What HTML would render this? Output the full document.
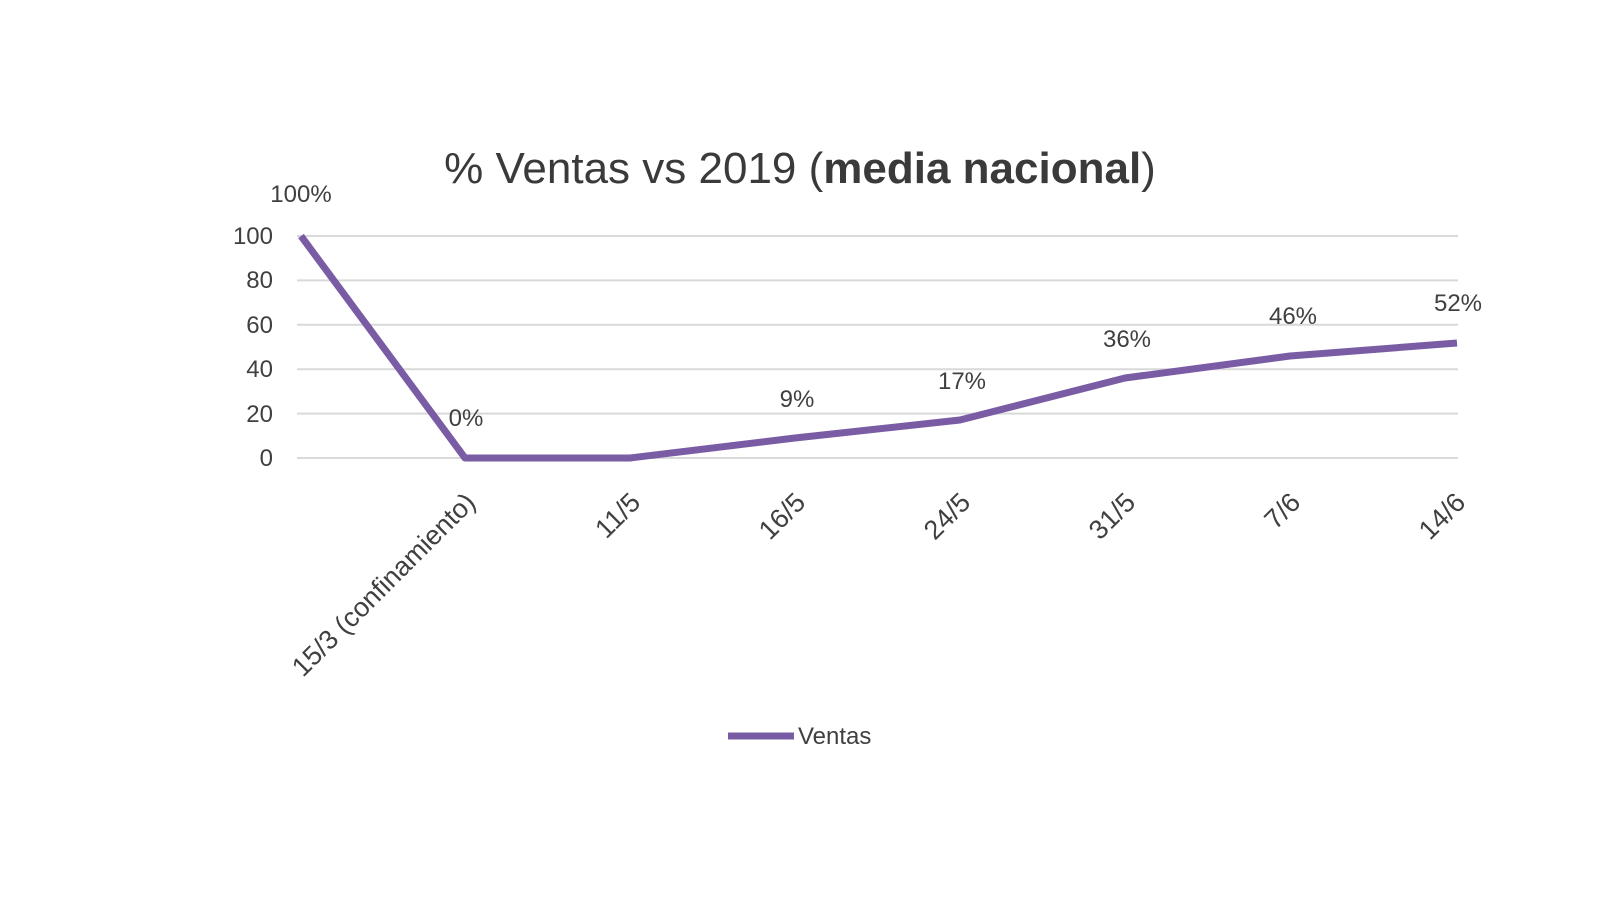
<!DOCTYPE html>
<html><head><meta charset="utf-8"><style>body{margin:0;background:#fff}</style></head><body>
<svg width="1600" height="900" xmlns="http://www.w3.org/2000/svg" font-family="Liberation Sans, sans-serif" fill="#404040">
<rect width="1600" height="900" fill="#fff"/>
<text x="800" y="183" font-size="44" text-anchor="middle" fill="#3a3a3a">% Ventas vs 2019 (<tspan font-weight="bold">media nacional</tspan>)</text>
<g stroke="#d9d9d9" stroke-width="2">
<line x1="297" x2="1458" y1="236" y2="236"/><line x1="297" x2="1458" y1="280.4" y2="280.4"/>
<line x1="297" x2="1458" y1="324.8" y2="324.8"/><line x1="297" x2="1458" y1="369.2" y2="369.2"/>
<line x1="297" x2="1458" y1="413.6" y2="413.6"/><line x1="297" x2="1458" y1="458" y2="458"/>
</g>
<g font-size="24" text-anchor="end">
<text x="273" y="244">100</text><text x="273" y="288">80</text><text x="273" y="333">60</text>
<text x="273" y="377">40</text><text x="273" y="422">20</text><text x="273" y="466">0</text>
</g>
<polyline fill="none" stroke="#7a5ca5" stroke-width="7" stroke-linejoin="round"
points="301,236 465,458 630,458 795,438 960,420 1125,378 1290,356 1457,343"/>
<g font-size="24" text-anchor="middle">
<text x="301" y="202">100%</text><text x="466" y="426">0%</text><text x="797" y="407">9%</text>
<text x="962" y="389">17%</text><text x="1127" y="347">36%</text><text x="1293" y="324">46%</text>
<text x="1458" y="311">52%</text>
</g>
<g font-size="27" text-anchor="end">
<text transform="translate(477,504) rotate(-45)">15/3 (confinamiento)</text>
<text transform="translate(642,504) rotate(-45)">11/5</text>
<text transform="translate(807,504) rotate(-45)">16/5</text>
<text transform="translate(972,504) rotate(-45)">24/5</text>
<text transform="translate(1137,504) rotate(-45)">31/5</text>
<text transform="translate(1302,504) rotate(-45)">7/6</text>
<text transform="translate(1467,504) rotate(-45)">14/6</text>
</g>
<line x1="728" x2="794" y1="736" y2="736" stroke="#7a5ca5" stroke-width="7"/>
<text x="798" y="744" font-size="24">Ventas</text>
</svg>
</body></html>
